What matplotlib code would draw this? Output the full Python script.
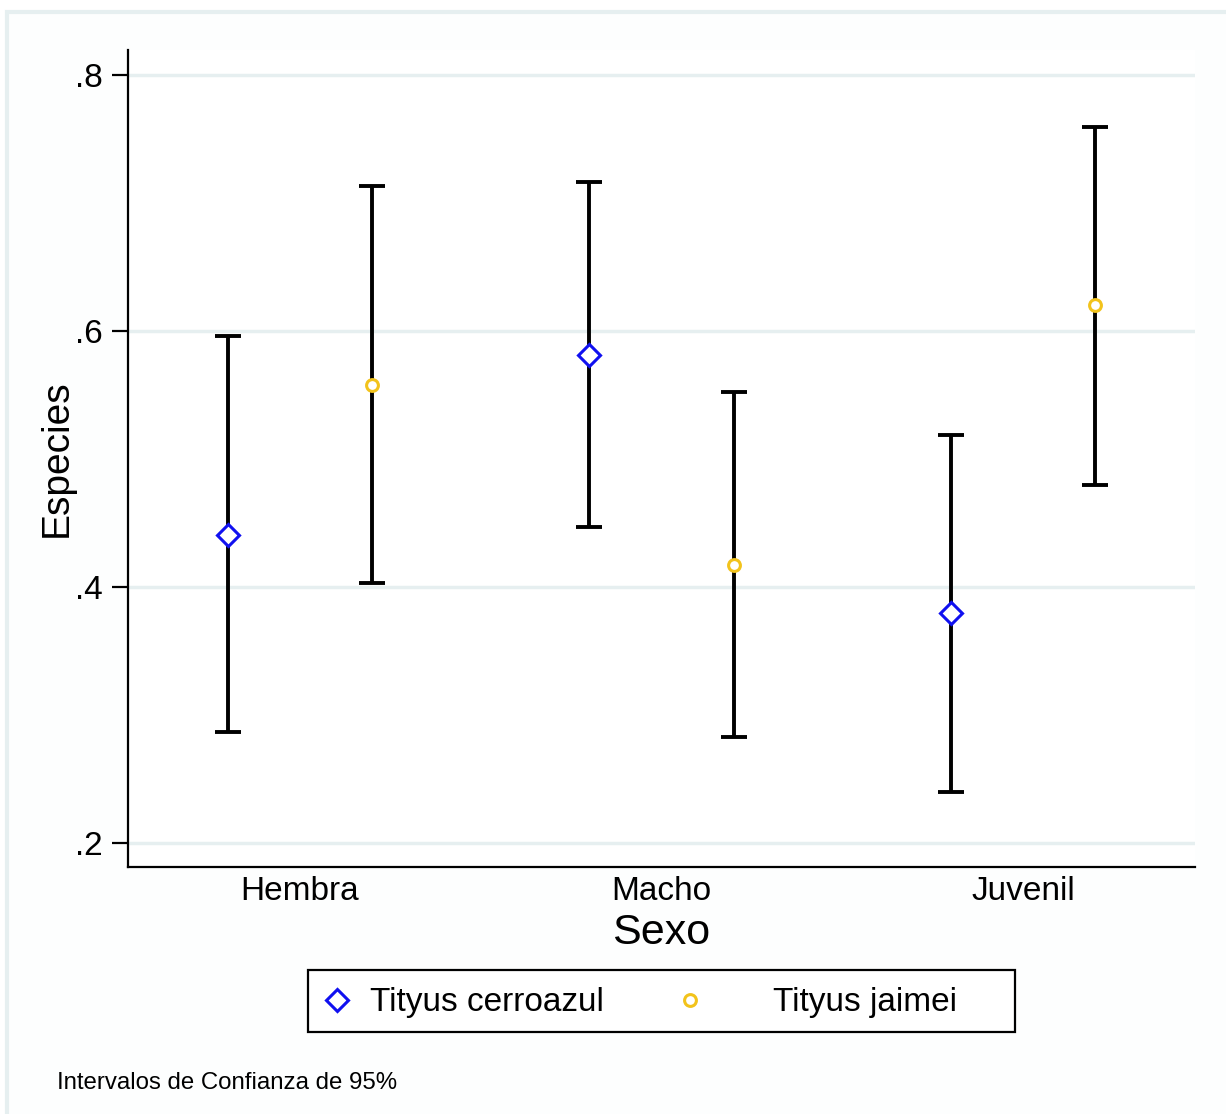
import matplotlib.pyplot as plt
import matplotlib.patches as mpatches
import matplotlib.lines as mlines
import numpy as np

# Data
categories = ['Hembra', 'Macho', 'Juvenil']
species = ['Tityus cerroazul', 'Tityus jaimei']

cerroazul_mean = [0.441, 0.581, 0.380]
cerroazul_low = [0.287, 0.447, 0.240]
cerroazul_high = [0.596, 0.716, 0.519]

jaimei_mean = [0.558, 0.417, 0.620]
jaimei_low = [0.403, 0.283, 0.480]
jaimei_high = [0.713, 0.552, 0.759]

yticks = [0.2, 0.4, 0.6, 0.8]
ytick_labels = ['.2', '.4', '.6', '.8']

plt.rcParams['font.family'] = ['Liberation Sans', 'DejaVu Sans']

W, H = 1226, 1114
fig = plt.figure(figsize=(W / 100, H / 100), dpi=100)
fig.patch.set_facecolor('white')

# light outer frame, Stata style
frame = mpatches.Rectangle((7 / W, -0.1), 1.2, 1.1 - 12 / H, transform=fig.transFigure,
                           facecolor='#fdfefe', edgecolor='#e6eff0', linewidth=3, zorder=-1)
fig.patches.append(frame)

ax = fig.add_axes([128 / W, 1 - 867 / H, 1067 / W, 817 / H])
ax.set_facecolor('white')

x = np.arange(1, len(categories) + 1)
offset = 0.2

blue = '#1010f0'
gold = '#f2c31c'
d_size, o_size = 11.5, 8.5

def draw_series(xpos, mean, low, high, marker, color, size, label):
    mean = np.array(mean)
    err = [mean - np.array(low), np.array(high) - mean]
    ax.errorbar(xpos, mean, yerr=err, fmt='none', ecolor='black', elinewidth=2.8,
                capsize=9.7, capthick=2.8, zorder=2)
    ax.plot(xpos, mean, linestyle='none', marker=marker, markersize=size,
            markerfacecolor='white', markeredgecolor=color, markeredgewidth=2.2,
            label=label, zorder=3)

draw_series(x - offset, cerroazul_mean, cerroazul_low, cerroazul_high, 'D', blue, d_size, species[0])
draw_series(x + offset, jaimei_mean, jaimei_low, jaimei_high, 'o', gold, o_size, species[1])

ax.set_xlim(0.524, 3.476)
ax.set_ylim(0.18125, 0.8195)

ax.set_yticks(yticks)
ax.set_yticklabels(ytick_labels, fontsize=24)
ax.set_xticks(x)
ax.set_xticklabels(categories, fontsize=24)
ax.tick_params(axis='x', length=0, pad=6.5)
ax.tick_params(axis='y', length=11.5, width=1.6, pad=7)

ax.grid(axis='y', color='#e6eff0', linewidth=2.5)
ax.set_axisbelow(True)

for side in ['top', 'right']:
    ax.spines[side].set_visible(False)
for side in ['left', 'bottom']:
    ax.spines[side].set_linewidth(1.6)

ax.set_xlabel('Sexo', fontsize=31, labelpad=4)
ax.set_ylabel('Especies', fontsize=28, labelpad=0)

# legend: box plus two single-entry legends (Stata spaces the columns evenly)
box = mpatches.Rectangle((308 / W, 1 - 1032 / H), 707 / W, 62 / H, transform=fig.transFigure,
                         facecolor='white', edgecolor='black', linewidth=1.6)
fig.patches.append(box)

h1 = mlines.Line2D([], [], linestyle='none', marker='D', markersize=d_size,
                   markerfacecolor='white', markeredgecolor=blue, markeredgewidth=2.2)
h2 = mlines.Line2D([], [], linestyle='none', marker='o', markersize=o_size,
                   markerfacecolor='white', markeredgecolor=gold, markeredgewidth=2.2)
yleg = 1 - 1003 / H
leg1 = fig.legend([h1], [species[0]], loc='center left', bbox_to_anchor=(320 / W, yleg),
                  fontsize=24, frameon=False, handlelength=1.0, handletextpad=0.5,
                  borderpad=0, borderaxespad=0)
leg2 = fig.legend([h2], [species[1]], loc='center left', bbox_to_anchor=(673 / W, yleg),
                  fontsize=24, frameon=False, handlelength=1.0, handletextpad=1.99,
                  borderpad=0, borderaxespad=0)

fig.text(57 / W, 1 - 1083 / H, 'Intervalos de Confianza de 95%', fontsize=17.3,
         va='center', ha='left')

fig.savefig('out.png', dpi=100)
